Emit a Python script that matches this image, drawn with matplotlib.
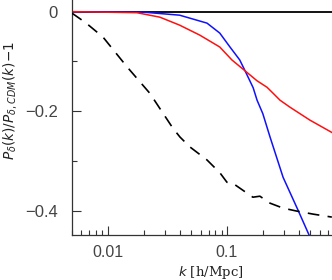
import matplotlib
matplotlib.use("Agg")
import matplotlib.pyplot as plt
from matplotlib.ticker import FixedLocator, NullFormatter

# data
k_cdm_dash = [0.005, 0.0065, 0.0091, 0.0145, 0.0225, 0.0351, 0.0403, 0.0489, 0.0679, 0.0873,
              0.100, 0.112, 0.136, 0.165, 0.189, 0.230, 0.296, 0.387, 0.528, 0.76]
v_dash = [-0.003, -0.022, -0.051, -0.111, -0.164, -0.234, -0.252, -0.272, -0.298, -0.324,
          -0.343, -0.345, -0.359, -0.373, -0.371, -0.385, -0.395, -0.401, -0.407, -0.413]

k_blue = [0.005, 0.02, 0.040, 0.068, 0.087, 0.106, 0.128, 0.142, 0.166, 0.179, 0.200,
          0.230, 0.296, 0.395, 0.489, 0.52]
v_blue = [0.0, -0.001, -0.007, -0.023, -0.043, -0.071, -0.097, -0.119, -0.153, -0.178,
          -0.205, -0.252, -0.333, -0.399, -0.449, -0.47]

k_red = [0.005, 0.0175, 0.0273, 0.040, 0.059, 0.087, 0.110, 0.142, 0.179, 0.217, 0.244,
         0.279, 0.338, 0.497, 0.762]
v_red = [0.0, -0.002, -0.011, -0.027, -0.047, -0.071, -0.097, -0.119, -0.139, -0.152,
         -0.164, -0.178, -0.192, -0.218, -0.243]

y_major = [0.0, -0.2, -0.4]
y_labels = ["0", "\u22120.2", "\u22120.4"]
y_minor = [-0.1, -0.3]
x_major = [0.01, 0.1]
x_labels = ["0.01", "0.1"]

plt.rcParams['font.family'] = ['Liberation Sans', 'DejaVu Sans']
fig = plt.figure(figsize=(3.32, 2.80), dpi=100)
ax = fig.add_axes([72/332, 45/280, 260/332, 235/280])

ax.axhline(0, color='black', lw=1.3, zorder=1)
ax.plot(k_cdm_dash, v_dash, color='black', lw=1.2, ls=(0, (7, 5)), zorder=3)
ax.plot(k_blue, v_blue, color='#1010ff', lw=1.1, zorder=2)
ax.plot(k_red, v_red, color='#ff1010', lw=1.1, zorder=2)

ax.set_xscale('log')
ax.set_xlim(0.005, 0.762)
ax.set_ylim(-0.449, 0.0235)

for s in ['top', 'right']:
    ax.spines[s].set_visible(False)
for s in ['left', 'bottom']:
    ax.spines[s].set_linewidth(0.9)
    ax.spines[s].set_color('#333333')

ax.set_yticks(y_major)
ax.set_yticklabels(y_labels)
ax.yaxis.set_minor_locator(FixedLocator(y_minor))
ax.set_xticks(x_major)
ax.set_xticklabels(x_labels)
ax.tick_params(axis='both', which='major', direction='in', length=6.5, width=0.8,
               labelsize=12, colors='#333333', labelcolor='#444444')
ax.tick_params(axis='both', which='minor', direction='in', length=3.5, width=0.8,
               colors='#333333')
ax.tick_params(axis='y', which='major', pad=10)
ax.tick_params(axis='x', which='major', pad=7.5, labelsize=11.5)
ax.xaxis.set_minor_formatter(NullFormatter())

ax.set_ylabel(r"$P_\delta(k)/P_{\delta,CDM}(k)\!-\!1$", fontsize=9.8, color='#222222')
ax.yaxis.set_label_coords(-0.205, 0.575)
ax.set_xlabel(r"$\mathbf{\mathit{k}}$ [h/Mpc]", fontsize=9.5, family='DejaVu Serif', color='#222222')
ax.xaxis.set_label_coords(0.535, -0.124)

fig.savefig("out.png", dpi=100)
